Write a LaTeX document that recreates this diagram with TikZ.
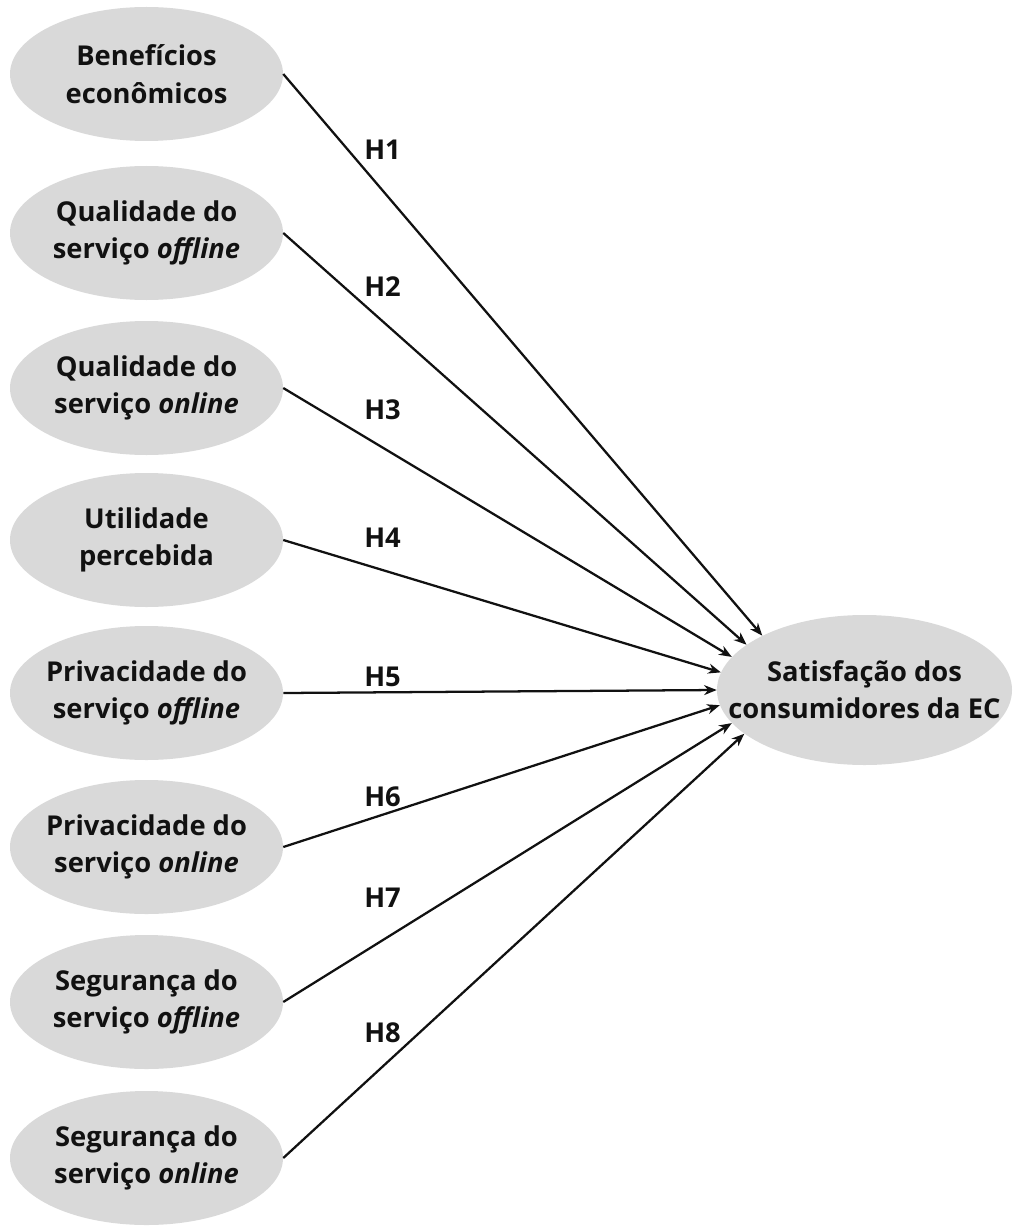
\documentclass[tikz,border=0pt]{standalone}
\usepackage{fontspec}
\setmainfont{Open Sans}
\usetikzlibrary{shapes.geometric,arrows.meta}
\definecolor{ellgray}{HTML}{D9D9D9}
\definecolor{ink}{HTML}{111111}
\begin{document}
\begin{tikzpicture}[x=0.75pt,y=-0.75pt,
  bubble/.style={ellipse, fill=ellgray, draw=none, inner sep=0pt,
    minimum width=204.75pt, minimum height=100.5pt},
  bigbubble/.style={ellipse, fill=ellgray, draw=none, inner sep=0pt,
    minimum width=221.25pt, minimum height=112.5pt},
  txt/.style={align=center, text=ink, inner sep=0pt,
    font=\fontsize{20.5}{28}\selectfont\bfseries},
  hyp/.style={anchor=west, text=ink, inner sep=0pt,
    font=\fontsize{20.5}{24}\selectfont\bfseries},
  conn/.style={draw=ink, line width=1.7pt, -{Stealth[length=9.5pt,width=7.5pt]}}
]
\useasboundingbox (0,0) rectangle (1013,1227);

\node[bubble] (b1) at (146.5,74) {};
\node[bubble] (b2) at (146.5,233) {};
\node[bubble] (b3) at (146.5,388) {};
\node[bubble] (b4) at (146.5,540) {};
\node[bubble] (b5) at (146.5,693) {};
\node[bubble] (b6) at (146.5,847) {};
\node[bubble] (b7) at (146.5,1002) {};
\node[bubble] (b8) at (146.5,1158) {};
\node[bigbubble] (sat) at (864.5,690) {};

\node[txt] (t1) at (b1) {Benefícios\\econômicos};
\node[txt] (t2) at (b2) {Qualidade do\\serviço \textit{offline}};
\node[txt] (t3) at (b3) {Qualidade do\\serviço \textit{online}};
\node[txt] (t4) at (b4) {Utilidade\\percebida};
\node[txt] (t5) at (b5) {Privacidade do\\serviço \textit{offline}};
\node[txt] (t6) at (b6) {Privacidade do\\serviço \textit{online}};
\node[txt] (t7) at (b7) {Segurança do\\serviço \textit{offline}};
\node[txt] (t8) at (b8) {Segurança do\\serviço \textit{online}};
\node[txt] (ts) at (sat) {Satisfação dos\\consumidores da EC};

\draw[conn] (b1.east) -- (sat.152.7);
\draw[conn] (b2.east) -- (sat.159.8);
\draw[conn] (b3.east) -- (sat.166.4);
\draw[conn] (b4.east) -- (sat.173);
\draw[conn] (b5.east) -- (sat.180);
\draw[conn] (b6.east) -- (sat.186.7);
\draw[conn] (b7.east) -- (sat.194.9);
\draw[conn] (b8.east) -- (sat.200.6);

\node[hyp] (h1) at (364,150) {H1};
\node[hyp] (h2) at (364,287) {H2};
\node[hyp] (h3) at (364,410) {H3};
\node[hyp] (h4) at (364,538) {H4};
\node[hyp] (h5) at (364,677) {H5};
\node[hyp] (h6) at (364,797) {H6};
\node[hyp] (h7) at (364,898) {H7};
\node[hyp] (h8) at (364,1033) {H8};
\end{tikzpicture}
\end{document}
